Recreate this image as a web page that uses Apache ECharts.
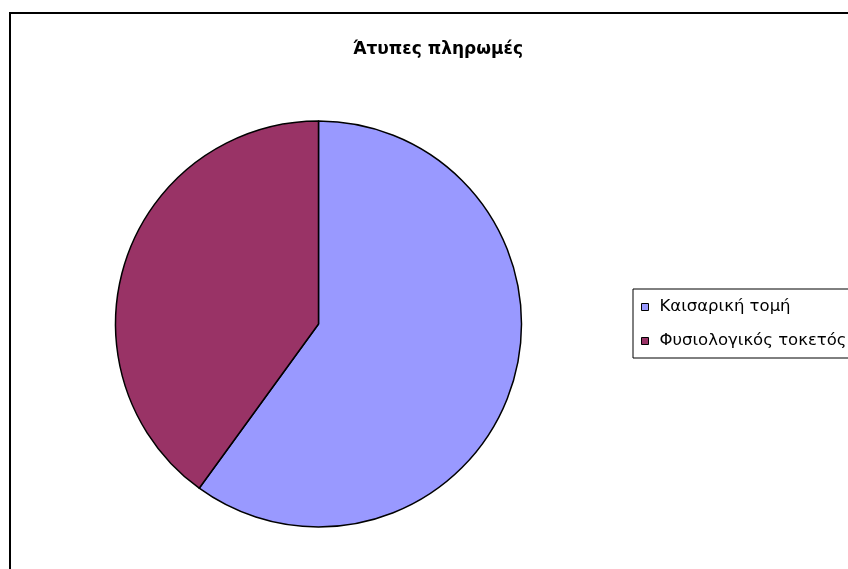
<!DOCTYPE html>
<html><head><meta charset="utf-8">
<script src="https://cdn.jsdelivr.net/npm/echarts@6/dist/echarts.min.js"></script>
<style>html,body{margin:0;padding:0;background:#fff}#c{width:848px;height:569px}</style>
</head><body><div id="c"></div>
<script>
const titleText = 'Άτυπες πληρωμές';
const categories = ['Καισαρική τομή', 'Φυσιολογικός τοκετός'];
const values = [60, 40];
const colors = ['#9999FF', '#993366'];

const chart = echarts.init(document.getElementById('c'), null, {renderer: 'canvas'});
chart.setOption({
  backgroundColor: '#fff',
  animation: false,
  title: {
    text: titleText, left: 433, top: 36, textAlign: 'center',
    textStyle: {fontFamily: 'DejaVu Sans, sans-serif', fontSize: 17, fontWeight: 'bold', color: '#000'}
  },
  graphic: [{
    type: 'rect', shape: {x: 10, y: 13, width: 900, height: 700},
    style: {fill: 'none', stroke: '#000', lineWidth: 2}, z: 100, silent: true
  }],
  legend: {
    orient: 'vertical', left: 633, top: 289,
    data: categories,
    icon: 'rect', itemWidth: 7, itemHeight: 7, itemGap: 14,
    padding: [8, 12, 7, 8],
    borderColor: '#000', borderWidth: 1,
    itemStyle: {borderColor: '#000', borderWidth: 1},
    textStyle: {fontFamily: 'DejaVu Sans, sans-serif', fontSize: 16.5, color: '#000', padding: [0, 0, 0, 6], lineHeight: 20}
  },
  series: [{
    type: 'pie',
    center: [318.5, 324], radius: 203,
    startAngle: 90, clockwise: true,
    label: {show: false}, labelLine: {show: false},
    itemStyle: {borderColor: '#000', borderWidth: 1.5},
    emphasis: {disabled: true},
    data: categories.map((n, i) => ({name: n, value: values[i], itemStyle: {color: colors[i]}}))
  }]
});
</script></body></html>
